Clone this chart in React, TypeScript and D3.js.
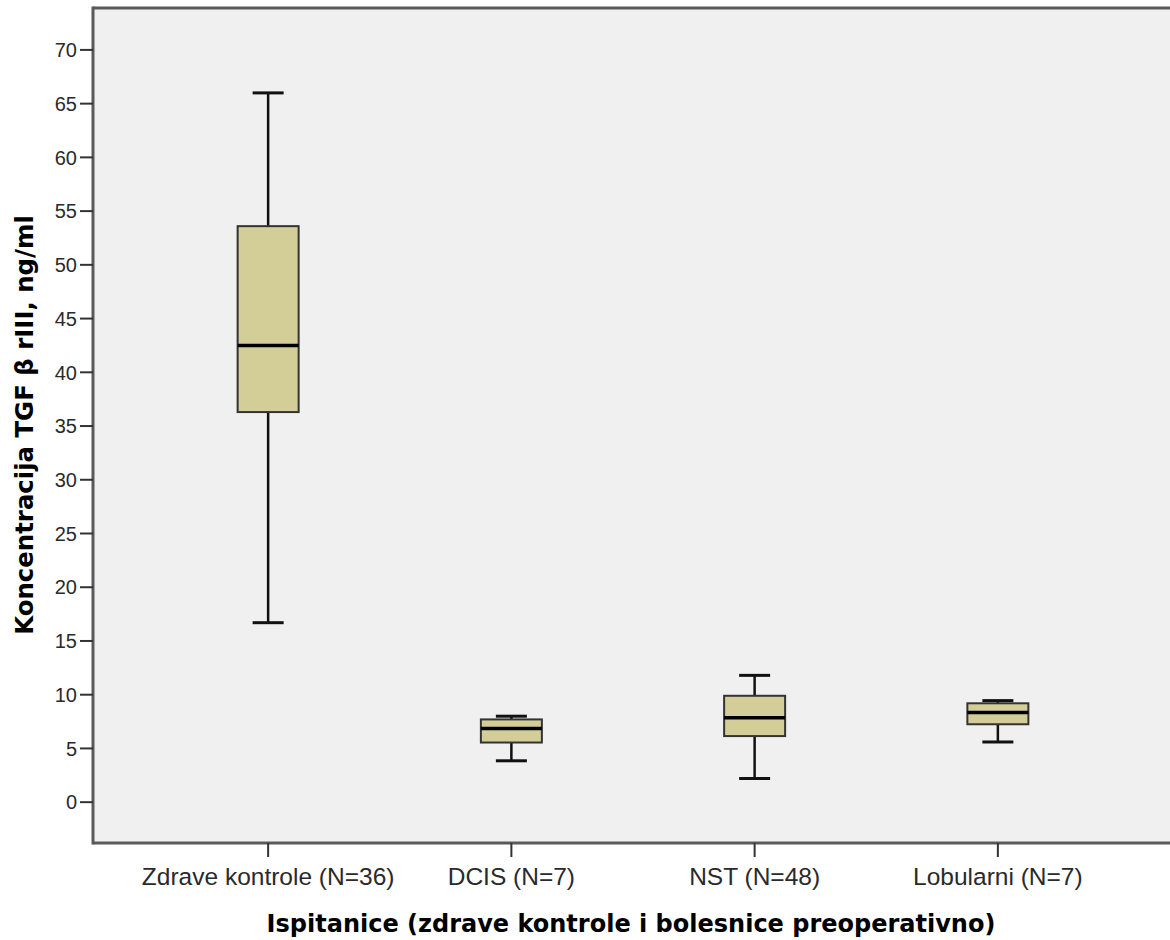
import React from "react";
import * as d3 from "d3";

const categories = ["Zdrave kontrole (N=36)", "DCIS (N=7)", "NST (N=48)", "Lobularni (N=7)"];
const whiskerLow = [16.7, 3.85, 2.2, 5.6];
const q1Values = [36.3, 5.55, 6.15, 7.25];
const medianValues = [42.5, 6.85, 7.85, 8.35];
const q3Values = [53.6, 7.7, 9.9, 9.2];
const whiskerHigh = [66.0, 8.0, 11.8, 9.45];
const yTicks = [0, 5, 10, 15, 20, 25, 30, 35, 40, 45, 50, 55, 60, 65, 70];
const yTitle = "Koncentracija TGF β rIII, ng/ml";
const xTitle = "Ispitanice (zdrave kontrole i bolesnice preoperativno)";

const W = 1170;
const H = 940;
const left = 93;
const top = 8;
const bottom = 843;
const right = 1173;

export default function App() {
  const y = d3.scaleLinear().domain([-3.8, 73.9]).range([bottom, top]);
  const x = d3.scalePoint<string>().domain(categories).range([left, right]).padding(0.72);
  const boxW = 61;
  const capW = 31;
  const fill = "#d3ce97";
  const frame = "#5a5a5a";

  return (
    <svg width={W} height={H} style={{ position: "absolute", left: 0, top: 0, background: "#fff", overflow: "hidden" }}>
      <rect x={left} y={top} width={W - left + 5} height={bottom - top} fill="#f0f0f0" />
      <line x1={left} x2={W + 5} y1={top} y2={top} stroke={frame} strokeWidth={3} />
      <line x1={left} x2={W + 5} y1={bottom} y2={bottom} stroke={frame} strokeWidth={3} />
      <line x1={left} x2={left} y1={top - 1.5} y2={bottom + 1.5} stroke={frame} strokeWidth={3} />
      {yTicks.map((t) => (
        <g key={t}>
          <line x1={80} x2={left} y1={y(t)} y2={y(t)} stroke="#333" strokeWidth={2} />
          <text x={77} y={y(t)} dy="0.36em" textAnchor="end" fontFamily="'Liberation Sans', Arial, sans-serif" fontSize={20} fill="#2a2a2a">
            {t}
          </text>
        </g>
      ))}
      {categories.map((c, i) => {
        const cx = x(c) as number;
        return (
          <g key={c}>
            <line x1={cx} x2={cx} y1={bottom} y2={bottom + 14} stroke="#333" strokeWidth={2} />
            <text x={cx} y={885} textAnchor="middle" fontFamily="'Liberation Sans', Arial, sans-serif" fontSize={24.5} fill="#2a2a2a">
              {c}
            </text>
            <line x1={cx} x2={cx} y1={y(whiskerHigh[i])} y2={y(q3Values[i])} stroke="#111" strokeWidth={2.5} />
            <line x1={cx} x2={cx} y1={y(q1Values[i])} y2={y(whiskerLow[i])} stroke="#111" strokeWidth={2.5} />
            <line x1={cx - capW / 2} x2={cx + capW / 2} y1={y(whiskerHigh[i])} y2={y(whiskerHigh[i])} stroke="#111" strokeWidth={3} />
            <line x1={cx - capW / 2} x2={cx + capW / 2} y1={y(whiskerLow[i])} y2={y(whiskerLow[i])} stroke="#111" strokeWidth={3} />
            <rect x={cx - boxW / 2} y={y(q3Values[i])} width={boxW} height={y(q1Values[i]) - y(q3Values[i])} fill={fill} stroke="#333" strokeWidth={2} />
            <line x1={cx - boxW / 2} x2={cx + boxW / 2} y1={y(medianValues[i])} y2={y(medianValues[i])} stroke="#000" strokeWidth={3.5} />
          </g>
        );
      })}
      <text x={631} y={932} textAnchor="middle" fontFamily="'DejaVu Sans', sans-serif" fontWeight="bold" fontSize={24} fill="#000">
        {xTitle}
      </text>
      <text transform={`translate(33,425) rotate(-90)`} textAnchor="middle" fontFamily="'DejaVu Sans', sans-serif" fontWeight="bold" fontSize={24.4} fill="#000">
        {yTitle}
      </text>
    </svg>
  );
}
